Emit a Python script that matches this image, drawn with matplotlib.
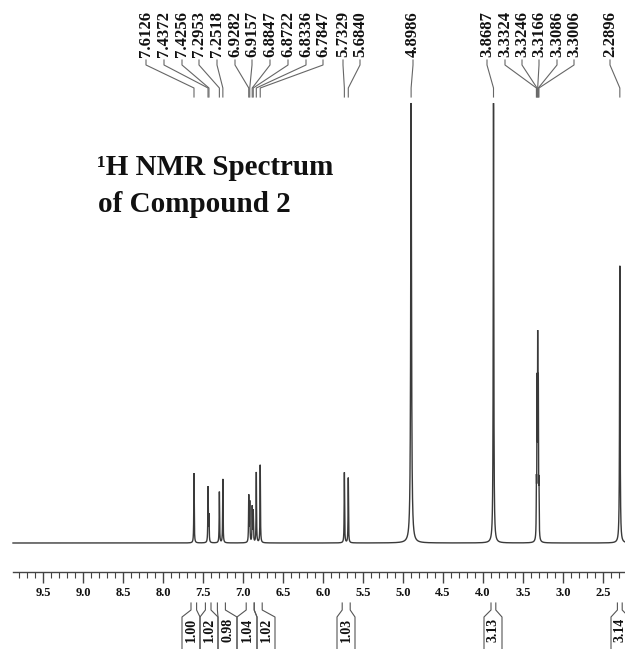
import numpy as np
import matplotlib
matplotlib.use('Agg')
import matplotlib.pyplot as plt
from matplotlib.ticker import FixedLocator, FormatStrFormatter
import matplotlib.transforms as mtransforms

plt.rcParams['font.family'] = ['Liberation Serif', 'DejaVu Serif']
plt.rcParams['font.weight'] = 'bold'

# ---------------- data ----------------
# peak positions (ppm), relative heights (tallest = 1) and half widths (ppm)
peak_ppm = [7.6126, 7.4372, 7.4256, 7.2953, 7.2518,
            6.9282, 6.9157, 6.8847, 6.8722, 6.8336, 6.7847,
            5.7329, 5.6840, 4.8986, 3.8687,
            3.3324, 3.3246, 3.3166, 3.3086, 3.3006, 2.2896]
peak_height = [0.159, 0.125, 0.060, 0.116, 0.145,
               0.105, 0.090, 0.080, 0.070, 0.160, 0.177,
               0.160, 0.148, 1.000, 1.000,
               0.110, 0.330, 0.420, 0.330, 0.110, 0.630]
peak_hwhm = [0.003, 0.003, 0.003, 0.003, 0.003,
             0.003, 0.003, 0.003, 0.003, 0.003, 0.003,
             0.003, 0.003, 0.006, 0.004,
             0.0025, 0.0025, 0.0025, 0.0025, 0.0025, 0.004]

# labelled peak list shown on top
label_ppm = [7.6126, 7.4372, 7.4256, 7.2953, 7.2518, 6.9282, 6.9157, 6.8847,
             6.8722, 6.8336, 6.7847, 5.7329, 5.6840, 4.8986, 3.8687,
             3.3324, 3.3246, 3.3166, 3.3086, 3.3006, 2.2896]
label_text = ['7.6126', '7.4372', '7.4256', '7.2953', '7.2518', '6.9282', '6.9157',
              '6.8847', '6.8722', '6.8336', '6.7847', '5.7329', '5.6840', '4.8986',
              '3.8687', '3.3324', '3.3246', '3.3166', '3.3086', '3.3006', '2.2896']

# integrals
int_text = ['1.00', '1.02', '0.98', '1.04', '1.02', '1.03', '3.13', '3.14']
int_start = [7.65, 7.47, 7.32, 6.96, 6.86, 5.76, 3.90, 2.32]
int_end = [7.58, 7.40, 7.22, 6.86, 6.76, 5.66, 3.84, 2.26]

# axis ticks
major_ticks = [9.5, 9.0, 8.5, 8.0, 7.5, 7.0, 6.5, 6.0, 5.5, 5.0, 4.5, 4.0, 3.5, 3.0, 2.5]

title_line1 = '\u00b9H NMR Spectrum'
title_line2 = 'of Compound 2'

# ---------------- layout constants (pixels) ----------------
W, H = 625, 649
AX_BOTTOM_PX = 572
BASE_PX = 543
UNIT_PX = 440
label_x_px = [146, 164, 182, 199, 217, 235, 252, 270, 288, 306, 323, 343, 360,
              413, 487, 505, 522, 539, 557, 574, 610]
box_px = [(182, 200), (200, 218), (218, 237), (237, 257), (257, 275),
          (337, 355), (484, 502), (611, 629)]

fig = plt.figure(figsize=(W / 100, H / 100), dpi=100)
ax = fig.add_axes([0, (H - AX_BOTTOM_PX) / H, 1, AX_BOTTOM_PX / H])

def px2ppm(x):
    return 5.0 - (x - 403) / 80.0

ax.set_xlim(px2ppm(0), px2ppm(W))
ax.set_ylim(-(AX_BOTTOM_PX - BASE_PX) / UNIT_PX, BASE_PX / UNIT_PX)

# spectrum built from the peak list (Lorentzian lines)
x = np.linspace(px2ppm(13), px2ppm(W + 2), 40000)
y = np.zeros_like(x)
for c, h, g in zip(peak_ppm, peak_height, peak_hwhm):
    y += h / (1 + ((x - c) / g) ** 2)
ax.plot(x, y, color='#3a3a3a', lw=1.0, solid_joinstyle='miter')

# axes styling
for s in ['top', 'left', 'right']:
    ax.spines[s].set_visible(False)
ax.spines['bottom'].set_bounds(px2ppm(W), px2ppm(13))
ax.spines['bottom'].set_color('#444444')
ax.spines['bottom'].set_linewidth(1.0)
ax.set_yticks([])
ax.xaxis.set_major_locator(FixedLocator(major_ticks))
minor = [round(v, 1) for v in np.arange(2.3, 9.85, 0.1)]
ax.xaxis.set_minor_locator(FixedLocator(minor))
ax.xaxis.set_major_formatter(FormatStrFormatter('%.1f'))
ax.tick_params(axis='x', which='major', length=8, width=1.0, color='#444444',
               pad=3, labelsize=9, labelcolor='#111111')
ax.tick_params(axis='x', which='minor', length=4, width=0.8, color='#444444')
for lbl in ax.get_xticklabels():
    lbl.set_fontweight('bold')

trans = mtransforms.blended_transform_factory(ax.transData, fig.transFigure)

def fy(ypx):
    return 1 - ypx / H

inv = ax.transData.inverted()

# peak labels and connectors
for lx, lp, lt in zip(label_x_px, label_ppm, label_text):
    lppm = inv.transform((lx, 0))[0]
    ax.text(lppm, fy(57), lt, transform=trans, rotation=90, ha='center', va='bottom',
            fontsize=12, fontweight='bold', color='#111111')
    xs = [lppm, lppm, lp, lp]
    ys = [fy(60), fy(65), fy(88), fy(97)]
    ax.plot(xs, ys, transform=trans, color='#666666', lw=0.8, clip_on=False)

# integral brackets
for (bl, br), s, e, t in zip(box_px, int_start, int_end, int_text):
    bl_ppm = inv.transform((bl, 0))[0]
    br_ppm = inv.transform((br, 0))[0]
    ax.plot([s, s, bl_ppm, bl_ppm], [fy(603), fy(610), fy(617), fy(H + 2)],
            transform=trans, color='#555555', lw=0.8, clip_on=False)
    ax.plot([e, e, br_ppm, br_ppm], [fy(603), fy(610), fy(617), fy(H + 2)],
            transform=trans, color='#555555', lw=0.8, clip_on=False)
    ax.text((bl_ppm + br_ppm) / 2, fy(630), t, transform=trans, rotation=90,
            ha='center', va='center', fontsize=10, fontweight='bold', color='#111111')

# title
fig.text(97 / W, fy(175), title_line1, ha='left', va='baseline', fontsize=21,
         fontweight='bold', color='#111111')
fig.text(98 / W, fy(212), title_line2, ha='left', va='baseline', fontsize=21,
         fontweight='bold', color='#111111')

fig.savefig('out.png', dpi=100)
